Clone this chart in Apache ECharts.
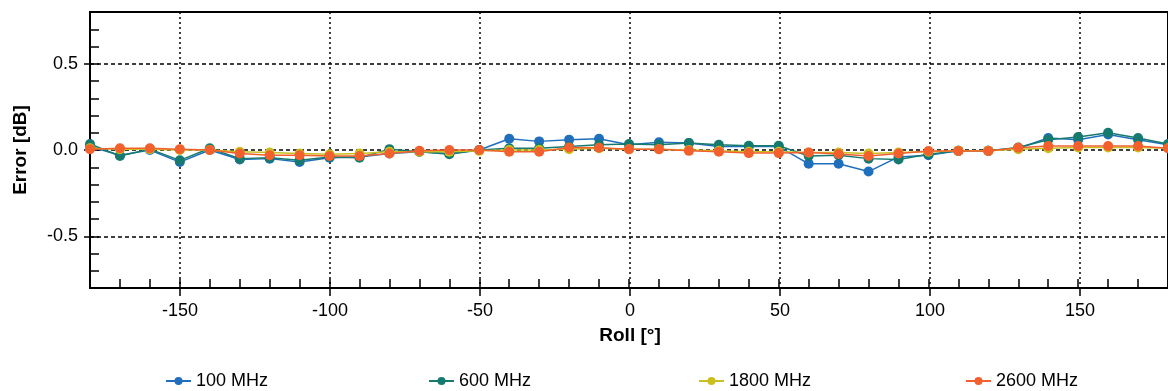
<!DOCTYPE html>
<html>
<head>
<meta charset="utf-8">
<script src="https://cdn.jsdelivr.net/npm/echarts@6/dist/echarts.min.js"></script>
<style>
html,body{margin:0;padding:0;background:#fff;}
#chart{width:1168px;height:391px;}
</style>
</head>
<body>
<div id="chart"></div>
<script>
const rollDeg = [-180,-170,-160,-150,-140,-130,-120,-110,-100,-90,-80,-70,-60,-50,-40,-30,-20,-10,0,10,20,30,40,50,60,70,80,90,100,110,120,130,140,150,160,170,180];
const seriesNames = ['100 MHz','600 MHz','1800 MHz','2600 MHz'];
const err100 = [0.02,-0.03,0.0,-0.07,0.0,-0.055,-0.05,-0.07,-0.045,-0.04,-0.02,-0.01,-0.02,0.0,0.065,0.05,0.06,0.065,0.03,0.045,0.04,0.02,0.02,0.02,-0.08,-0.08,-0.125,-0.04,-0.03,-0.005,-0.005,0.01,0.07,0.06,0.09,0.06,0.03];
const err600 = [0.035,-0.035,0.005,-0.06,0.01,-0.05,-0.045,-0.06,-0.04,-0.045,0.005,-0.01,-0.025,0.0,0.01,0.01,0.02,0.03,0.035,0.03,0.04,0.03,0.025,0.025,-0.035,-0.03,-0.05,-0.055,-0.025,-0.005,-0.005,0.015,0.06,0.075,0.1,0.07,0.035];
const err1800 = [0.01,0.005,0.005,0.0,0.0,-0.01,-0.015,-0.02,-0.025,-0.02,-0.01,-0.01,-0.01,-0.005,0.0,0.0,0.005,0.01,0.005,0.005,0.0,-0.005,-0.01,-0.01,-0.015,-0.015,-0.02,-0.015,-0.01,-0.005,-0.005,0.005,0.01,0.015,0.015,0.015,0.01];
const err2600 = [0.005,0.01,0.01,0.005,0.0,-0.02,-0.03,-0.03,-0.035,-0.035,-0.02,-0.005,0.0,0.0,-0.01,-0.01,0.015,0.013,0.005,0.005,-0.005,-0.01,-0.018,-0.018,-0.015,-0.023,-0.035,-0.02,-0.006,-0.006,-0.006,0.013,0.023,0.023,0.023,0.023,0.01];
const seriesColors = ['#1f6fbd','#177a6f','#c9c020','#f2602e'];
const xLabelTicks = [-150,-100,-50,0,50,100,150];
const yLabelTicks = [-0.5,0,0.5];

const allErr = [err100, err600, err1800, err2600];
const font = 'Liberation Sans, Arial, sans-serif';
const chart = echarts.init(document.getElementById('chart'), null, {renderer:'canvas'});

const legendLefts = [160, 423, 693, 960];

chart.setOption({
  animation: false,
  backgroundColor: '#fff',
  grid: [
    {left: 90, right: -2, top: 12, bottom: 103, show: true, borderColor: '#000', borderWidth: 2, backgroundColor: 'transparent'},
    {left: 180, right: 88, top: 12, bottom: 103},
    {left: 90, right: -2, top: 63.75, bottom: 154.75}
  ],
  legend: seriesNames.map((n, i) => ({
    data: [n], left: legendLefts[i], top: 367, itemWidth: 25, itemHeight: 10, itemGap: 5,
    textStyle: {fontFamily: font, fontSize: 18, color: '#000'}
  })),
  xAxis: [
    {gridIndex: 0, type: 'value', min: -180, max: 180, interval: 10,
     axisLine: {show: true, onZero: false, lineStyle: {color: '#000', width: 2}},
     axisTick: {show: true, inside: true, length: 9, lineStyle: {color: '#000', width: 1.5}},
     axisLabel: {show: false}, splitLine: {show: false}},
    {gridIndex: 1, type: 'value', min: xLabelTicks[0], max: xLabelTicks[xLabelTicks.length-1], interval: 50,
     name: 'Roll [°]', nameLocation: 'middle', nameGap: 38,
     nameTextStyle: {fontFamily: font, fontSize: 19, fontWeight: 'bold', color: '#000'},
     axisLine: {show: false, onZero: false},
     axisTick: {show: true, inside: false, length: 8, lineStyle: {color: '#000', width: 1.5}},
     axisLabel: {show: true, margin: 14, fontFamily: font, fontSize: 18, color: '#000'},
     splitLine: {show: true, lineStyle: {color: '#000', type: [2, 3], width: 1.5}}},
    {gridIndex: 2, type: 'value', min: -180, max: 180, show: false}
  ],
  yAxis: [
    {gridIndex: 0, type: 'value', min: -0.8, max: 0.8, interval: 0.1,
     axisLine: {show: true, onZero: false, lineStyle: {color: '#000', width: 2}},
     axisTick: {show: true, inside: true, length: 9, lineStyle: {color: '#000', width: 1.5}},
     axisLabel: {show: false}, splitLine: {show: false}},
    {gridIndex: 1, type: 'value', min: -1, max: 1, show: false},
    {gridIndex: 2, type: 'value', min: yLabelTicks[0], max: yLabelTicks[yLabelTicks.length-1], interval: 0.5,
     name: 'Error [dB]', nameLocation: 'middle', nameGap: 60, nameRotate: 90,
     nameTextStyle: {fontFamily: font, fontSize: 19, fontWeight: 'bold', color: '#000'},
     axisLine: {show: false, onZero: false},
     axisTick: {show: true, inside: false, length: 6, lineStyle: {color: '#000', width: 1.5}},
     axisLabel: {show: true, margin: 12, fontFamily: font, fontSize: 18, color: '#000',
                 formatter: v => v.toFixed(1)},
     splitLine: {show: true, lineStyle: {color: '#000', type: [4, 3], width: 1.5}}}
  ],
  series: seriesNames.map((n, i) => ({
    name: n, type: 'line', xAxisIndex: 0, yAxisIndex: 0,
    data: rollDeg.map((x, k) => [x, allErr[i][k]]),
    symbol: 'circle', symbolSize: 10, showSymbol: true,
    itemStyle: {color: seriesColors[i]},
    lineStyle: {color: seriesColors[i], width: 1.5},
    z: 3 + i
  }))
});
</script>
</body>
</html>
